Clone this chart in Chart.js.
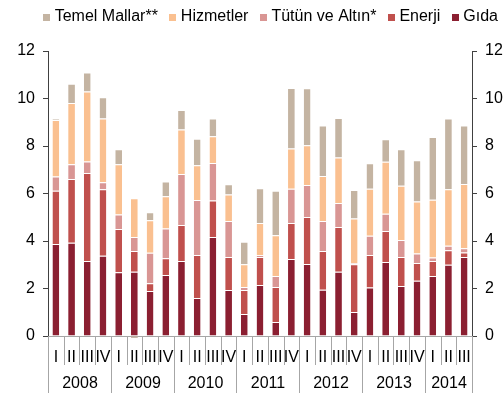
<!DOCTYPE html>
<html lang="tr">
<head>
    <meta charset="UTF-8">
    <title>Enflasyona katkılar</title>
    <script src="https://cdn.jsdelivr.net/npm/chart.js"></script>
    <style>
        html, body { margin: 0; padding: 0; background: #fff; }
        #wrap { width: 503px; height: 397px; }
    </style>
</head>
<body>

    <div id="wrap"><canvas id="katkiChart"></canvas></div>

    <script>
        // quarters and year groups
        const quarters = ['I','II','III','IV','I','II','III','IV','I','II','III','IV','I','II','III','IV',
                          'I','II','III','IV','I','II','III','IV','I','II','III'];
        const years = ['2008','2009','2010','2011','2012','2013','2014'];
        const quartersPerYear = [4, 4, 4, 4, 4, 4, 3];

        // contributions (percentage points)
        const gida   = [3.87,3.93,3.16,3.38, 2.68,2.71,1.89,2.57, 3.16,1.60,4.17,1.94, 0.93,2.15,0.59,3.24,
                        3.03,1.95,2.71,1.01, 2.04,3.12,2.11,2.33, 2.53,3.00,3.33];
        const enerji = [2.25,2.68,3.70,2.80, 1.83,0.87,0.33,0.70, 1.51,1.81,1.54,1.39, 1.01,1.18,1.47,1.52,
                        1.98,1.63,1.88,2.01, 1.37,1.30,1.22,0.74, 0.63,0.61,0.19];
        const tutun  = [0.60,0.62,0.49,0.29, 0.61,0.59,1.29,1.26, 2.15,2.32,1.57,1.51, 0.12,0.07,0.47,1.44,
                        1.35,1.26,1.01,0.04, 0.81,0.73,0.71,0.40, 0.15,0.19,0.17];
        const hizmet = [2.37,2.58,2.95,2.69, 2.11,1.63,1.36,1.35, 1.87,1.46,1.13,1.12, 0.96,1.36,1.71,1.70,
                        1.67,1.90,1.92,1.89, 1.98,2.19,2.29,2.19, 2.43,2.38,2.71];
        const temel  = [0.06,0.81,0.79,0.89, 0.63,-0.08,0.34,0.63, 0.83,1.12,0.75,0.43, 0.95,1.46,1.88,2.54,
                        2.40,2.12,1.66,1.20, 1.07,0.94,1.53,1.74, 2.64,2.98,2.46];

        const yTicks = [0, 2, 4, 6, 8, 10, 12];

        const FONT = '"Liberation Sans", Arial, sans-serif';
        Chart.defaults.font.family = FONT;
        Chart.defaults.font.size = 16;
        Chart.defaults.color = '#000';

        // small square used as legend marker (keeps text close to the box)
        function swatch(color) {
            const c = document.createElement('canvas');
            c.width = 7; c.height = 7;
            const g = c.getContext('2d');
            g.fillStyle = color;
            g.fillRect(0, 0, 7, 7);
            return c;
        }

        // year labels + separator lines under the x axis
        const yearAxis = {
            id: 'yearAxis',
            afterDraw(chart) {
                const xs = chart.scales.x;
                const ctx = chart.ctx;
                const step = xs.getPixelForValue(1) - xs.getPixelForValue(0);
                const edge = i => Math.round(xs.getPixelForValue(i) - step / 2) + 0.5;
                const starts = [0];
                quartersPerYear.forEach(n => starts.push(starts[starts.length - 1] + n));

                ctx.save();
                ctx.strokeStyle = '#a6a6a6';
                ctx.lineWidth = 1;
                for (let i = 0; i <= quarters.length; i++) {
                    const x = edge(i);
                    const len = starts.includes(i) ? 57 : 29;
                    ctx.beginPath();
                    ctx.moveTo(x, xs.top);
                    ctx.lineTo(x, xs.top + len);
                    ctx.stroke();
                }
                ctx.fillStyle = '#000';
                ctx.font = '16px ' + FONT;
                ctx.textAlign = 'center';
                ctx.textBaseline = 'middle';
                years.forEach((yr, k) => {
                    const mid = (edge(starts[k]) + edge(starts[k + 1])) / 2;
                    ctx.fillText(yr, mid, xs.top + 48);
                });
                ctx.restore();
            }
        };

        const barOpts = {
            barPercentage: 0.43,
            categoryPercentage: 1,
            borderWidth: { top: 1 },
            borderColor: 'rgba(255,255,255,0.55)',
            borderSkipped: 'start'
        };

        const sideAxis = (pos, w) => ({
            position: pos,
            stacked: pos === 'left',
            min: 0,
            max: 12,
            afterBuildTicks: s => { s.ticks = yTicks.map(v => ({ value: v })); },
            ticks: { padding: 8, color: '#000' },
            grid: { drawOnChartArea: false, tickLength: 5, color: '#404040' },
            border: { color: '#404040' },
            afterFit: s => { s.width = w; }
        });

        const ctx = document.getElementById('katkiChart').getContext('2d');
        const katkiChart = new Chart(ctx, {
            type: 'bar',
            data: {
                labels: quarters,
                datasets: [
                    { label: 'Gıda', data: gida, backgroundColor: '#8B1F31', ...barOpts },
                    { label: 'Enerji', data: enerji, backgroundColor: '#C0504D', ...barOpts },
                    { label: 'Tütün ve Altın*', data: tutun, backgroundColor: '#D99694', ...barOpts },
                    { label: 'Hizmetler', data: hizmet, backgroundColor: '#FAC090', ...barOpts },
                    { label: 'Temel Mallar**', data: temel, backgroundColor: '#C4B4A2', clip: false, ...barOpts }
                ]
            },
            options: {
                responsive: true,
                maintainAspectRatio: false,
                animation: false,
                layout: { padding: { top: -6, right: -10 } },
                plugins: {
                    legend: {
                        reverse: true,
                        align: 'end',
                        labels: {
                            usePointStyle: true,
                            pointStyleWidth: 0.01,
                            padding: 15,
                            color: '#000',
                            generateLabels(chart) {
                                const items = Chart.defaults.plugins.legend.labels.generateLabels(chart);
                                items.forEach(it => { it.pointStyle = swatch(it.fillStyle); });
                                return items;
                            }
                        }
                    },
                    tooltip: { enabled: false }
                },
                scales: {
                    x: {
                        stacked: true,
                        grid: { display: false, drawTicks: false },
                        border: { display: true, color: '#a6a6a6' },
                        ticks: { autoSkip: false, maxRotation: 0, padding: 12, color: '#000' },
                        afterFit: s => { s.height = 61; }
                    },
                    y: sideAxis('left', 48),
                    y2: sideAxis('right', 41)
                }
            },
            plugins: [yearAxis, {
                id: 'legendHeight',
                beforeInit(chart) {
                    const fit = chart.legend.fit;
                    chart.legend.fit = function () {
                        fit.bind(chart.legend)();
                        this.height = 57;
                    };
                }
            }]
        });
    </script>

</body>
</html>
